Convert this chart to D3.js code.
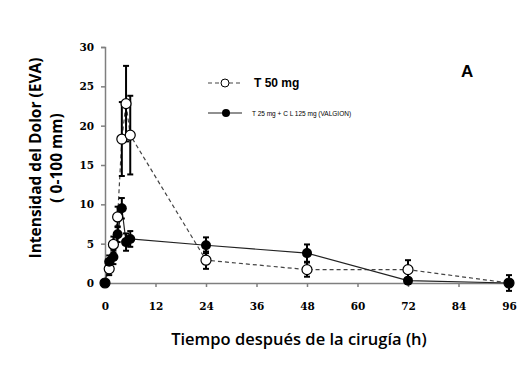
<!DOCTYPE html>
<html>
<head>
<meta charset="utf-8">
<script src="https://cdn.jsdelivr.net/npm/d3@7"></script>
<style>
  body { margin: 0; background: #fff; }
  svg { display: block; }
</style>
</head>
<body>
<svg id="chart"></svg>
<script>
// T 50 mg (open circles, dashed)
var timesA = [0, 1, 2, 3, 4, 5, 6, 24, 48, 72, 96];
var meanA  = [0, 1.8, 4.9, 8.4, 18.3, 22.8, 18.8, 2.9, 1.7, 1.7, 0];
var errA   = [0, 0.8, 1.0, 1.3, 4.7, 4.8, 5.0, 1.1, 0.9, 1.2, 0];

// T 25 mg + CL 125 mg (filled circles, solid)
var timesB = [0, 1, 2, 3, 4, 5, 6, 24, 48, 72, 96];
var meanB  = [0, 2.7, 3.3, 6.2, 9.5, 5.2, 5.6, 4.8, 3.8, 0.3, 0];
var errB   = [0, 0.8, 0.9, 1.0, 1.3, 1.1, 1.0, 1.0, 1.1, 0.3, 1.0];

var xTicks = [0, 12, 24, 36, 48, 60, 72, 84, 96];
var yTicks = [0, 5, 10, 15, 20, 25, 30];

var W = 524, H = 373;
var m = {left: 105, top: 47};
var w = 404, h = 236;

var svg = d3.select('#chart').attr('width', W).attr('height', H);
var g = svg.append('g').attr('transform', 'translate(' + m.left + ',' + m.top + ')');

var x = d3.scaleLinear().domain([0, 96]).range([0, w]);
var y = d3.scaleLinear().domain([0, 30]).range([h, 0]);

// axes
var xAxis = g.append('g')
  .attr('transform', 'translate(0,' + h + ')')
  .call(d3.axisBottom(x).tickValues(xTicks).tickSize(4).tickPadding(16));
var yAxis = g.append('g')
  .call(d3.axisLeft(y).tickValues(yTicks).tickSize(4).tickPadding(7));

[xAxis, yAxis].forEach(function(a) {
  a.select('.domain').attr('stroke', '#7f7f7f').attr('stroke-width', 1.5);
  a.selectAll('.tick line').attr('stroke', '#7f7f7f').attr('stroke-width', 1.5);
  a.selectAll('text')
    .attr('font-family', 'DejaVu Serif, serif')
    .attr('font-weight', 'bold')
    .attr('font-size', 10.5)
    .attr('fill', '#000');
});

var A = timesA.map(function(t, i) { return {t: t, v: meanA[i], e: errA[i]}; });
var B = timesB.map(function(t, i) { return {t: t, v: meanB[i], e: errB[i]}; });

var line = d3.line().x(function(d) { return x(d.t); }).y(function(d) { return y(d.v); });

g.append('path').datum(A)
  .attr('d', line).attr('fill', 'none')
  .attr('stroke', '#444').attr('stroke-width', 1.2).attr('stroke-dasharray', '4,3');
g.append('path').datum(B)
  .attr('d', line).attr('fill', 'none')
  .attr('stroke', '#222').attr('stroke-width', 1.2);

function errBars(data) {
  var eg = g.append('g').attr('stroke', '#000').attr('stroke-width', 2);
  data.filter(function(d) { return d.e > 0; }).forEach(function(d) {
    var cx = x(d.t);
    eg.append('line').attr('x1', cx).attr('x2', cx).attr('y1', y(d.v - d.e)).attr('y2', y(d.v + d.e));
    eg.append('line').attr('x1', cx - 3).attr('x2', cx + 3).attr('y1', y(d.v + d.e)).attr('y2', y(d.v + d.e));
    eg.append('line').attr('x1', cx - 3).attr('x2', cx + 3).attr('y1', y(d.v - d.e)).attr('y2', y(d.v - d.e));
  });
}
errBars(A);
errBars(B);

g.selectAll('.ptA').data(A).enter().append('circle')
  .attr('cx', function(d) { return x(d.t); })
  .attr('cy', function(d) { return y(d.v); })
  .attr('r', 5).attr('fill', '#fff').attr('stroke', '#000').attr('stroke-width', 1.2);
g.selectAll('.ptB').data(B).enter().append('circle')
  .attr('cx', function(d) { return x(d.t); })
  .attr('cy', function(d) { return y(d.v); })
  .attr('r', 5).attr('fill', '#000');

// legend
svg.append('line').attr('x1', 208).attr('x2', 242).attr('y1', 83).attr('y2', 83)
  .attr('stroke', '#444').attr('stroke-width', 1.2).attr('stroke-dasharray', '4,3');
svg.append('circle').attr('cx', 225).attr('cy', 83).attr('r', 4)
  .attr('fill', '#fff').attr('stroke', '#000').attr('stroke-width', 1);
svg.append('text').attr('x', 254).attr('y', 87).text('T 50 mg')
  .attr('font-family', 'Liberation Sans, Arial, sans-serif').attr('font-weight', 'bold').attr('font-size', 12);

svg.append('line').attr('x1', 208).attr('x2', 242).attr('y1', 113).attr('y2', 113)
  .attr('stroke', '#222').attr('stroke-width', 1.2);
svg.append('circle').attr('cx', 226).attr('cy', 113).attr('r', 4).attr('fill', '#000');
svg.append('text').attr('x', 252).attr('y', 115.5).text('T 25  mg + C L 125 mg (VALGION)')
  .attr('font-family', 'Liberation Sans, Arial, sans-serif').attr('font-size', 6.5);

svg.append('text').attr('x', 461).attr('y', 77).text('A')
  .attr('font-family', 'Liberation Sans, Arial, sans-serif').attr('font-weight', 'bold').attr('font-size', 17);

// axis titles
var yt = svg.append('text')
  .attr('transform', 'translate(41,158) rotate(-90)')
  .attr('text-anchor', 'middle')
  .attr('font-family', 'Open Sans, sans-serif').attr('font-weight', 'bold').attr('font-size', 15.5);
yt.append('tspan').attr('x', 0).attr('dy', 0).text('Intensidad del Dolor (EVA)');
yt.append('tspan').attr('x', 0).attr('dy', 21).text('( 0-100 mm)');

svg.append('text').attr('x', 299).attr('y', 345).attr('text-anchor', 'middle')
  .attr('font-family', 'Open Sans, sans-serif').attr('font-weight', 600).attr('font-size', 16.5)
  .text('Tiempo después de la cirugía (h)');
</script>
</body>
</html>
